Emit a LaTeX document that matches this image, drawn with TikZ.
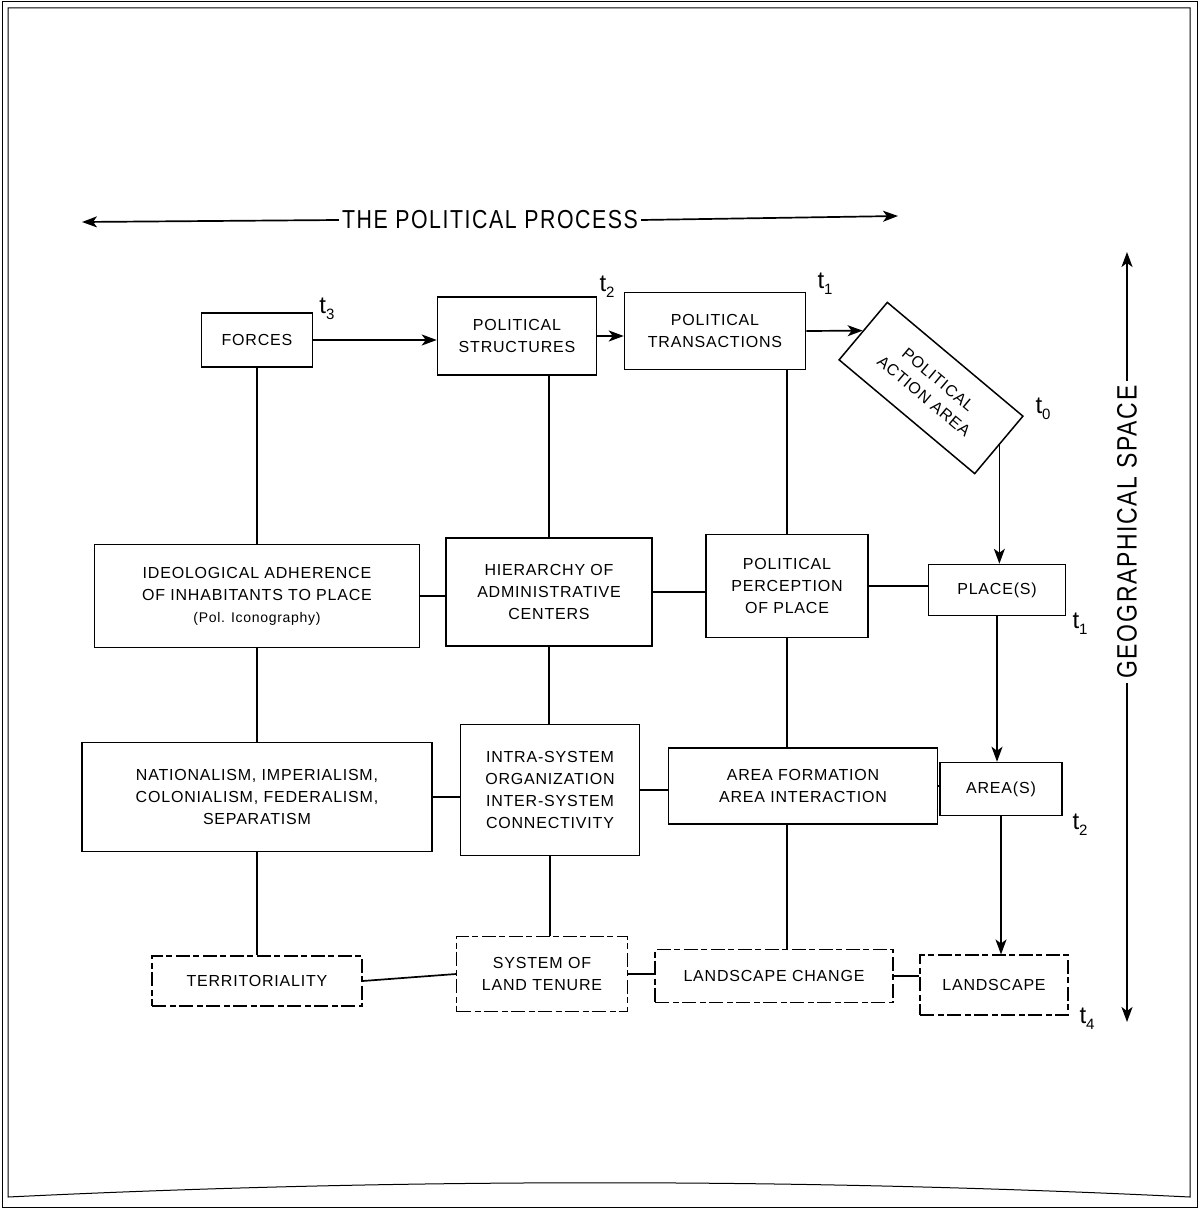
\documentclass[tikz,border=0pt]{standalone}
\usepackage{fontspec}
\setmainfont{Liberation Sans}[LetterSpace=5]
\newfontfamily\condfont{Liberation Sans}[FakeStretch=0.82,LetterSpace=6]
\usepackage{tikz}
\usetikzlibrary{positioning}
\usetikzlibrary{arrows.meta}
\tikzset{
  blk/.style={draw,line width=1.5pt,align=center,inner sep=2pt,font=\fontsize{16}{22}\selectfont},
  dblk/.style={blk,line width=1.1pt,dash pattern=on 14pt off 4pt on 6pt off 3pt},
  conn/.style={line width=1.7pt},
  arr/.style={conn,-{Stealth[length=15pt,width=11pt,inset=4pt]}},
  tlbl/.style={inner sep=0pt,font=\fontsize{24}{24}\selectfont},
  frame/.style={line width=1pt}
}
\newcommand{\tsub}[1]{t\raisebox{-6pt}{\fontsize{15}{15}\selectfont #1}}
\begin{document}
\begin{tikzpicture}[x=1pt,y=-1pt]
\useasboundingbox (0,0) rectangle (1199,1209);
% frame
\draw[frame] (2,2) rectangle (1197,1207);
\draw[frame] (8,8) -- (8,1197) .. controls (400,1178) and (800,1178) .. (1190,1197) -- (1190,8) -- cycle;
% the two axes
\node[inner sep=3pt,font=\condfont\fontsize{26}{26}\selectfont] (proc) at (490,220) {THE POLITICAL PROCESS};
\coordinate (procL) at (82,222);
\coordinate (procR) at (898,216);
\draw[arr] (proc.west) -- (procL);
\draw[arr] (proc.east) -- (procR);
\node[inner sep=4pt,rotate=90,font=\condfont\fontsize{28}{28}\selectfont] (geo) at (1127,532) {GEOGRAPHICAL SPACE};
\coordinate (geoT) at (1127,252);
\coordinate (geoB) at (1127,1022);
\draw[arr] (geo.east) -- (geoT);
\draw[arr] (geo.west) -- (geoB);
% top row
\node[blk,minimum width=111,minimum height=54] (forces) at (257,340) {FORCES};
\node[blk,minimum width=159,minimum height=78] (struct) at (517,336) {POLITICAL\\STRUCTURES};
\node[blk,minimum width=181,minimum height=77] (trans) at (715,331) {POLITICAL\\TRANSACTIONS};
\node[blk,rotate=-40,minimum width=177,minimum height=75] (paa) at (931,388) {POLITICAL\\ACTION AREA};
% second row
\node[blk,minimum width=325,minimum height=103] (ideol) at (257,596) {IDEOLOGICAL ADHERENCE\\OF INHABITANTS TO PLACE\\{\fontsize{14}{20}\selectfont (Pol. Iconography)}};
\node[blk,minimum width=206,minimum height=108] (hier) at (549,592) {HIERARCHY OF\\ADMINISTRATIVE\\CENTERS};
\node[blk,minimum width=162,minimum height=103] (percep) at (787,586) {POLITICAL\\PERCEPTION\\OF PLACE};
\node[blk,minimum width=137,minimum height=51] (place) at (997,590) {PLACE(S)};
% third row
\node[blk,minimum width=350,minimum height=109] (nation) at (257,797) {NATIONALISM, IMPERIALISM,\\COLONIALISM, FEDERALISM,\\SEPARATISM};
\node[blk,minimum width=179,minimum height=131] (intra) at (550,790) {INTRA-SYSTEM\\ORGANIZATION\\INTER-SYSTEM\\CONNECTIVITY};
\node[blk,minimum width=269,minimum height=76] (areaf) at (803,786) {AREA FORMATION\\AREA INTERACTION};
\node[blk,minimum width=122,minimum height=53] (areas) at (1001,789) {AREA(S)};
% bottom row
\node[dblk,minimum width=210,minimum height=50] (terr) at (257,981) {TERRITORIALITY};
\node[dblk,minimum width=171,minimum height=75] (tenure) at (542,974) {SYSTEM OF\\LAND TENURE};
\node[dblk,minimum width=238,minimum height=53] (lchange) at (774,976) {LANDSCAPE CHANGE};
\node[dblk,minimum width=148,minimum height=60] (lscape) at (994,985) {LANDSCAPE};
% time marks
\node[tlbl] (tthree) at (327,309) {\tsub{3}};
\node[tlbl] (ttwo) at (607,287) {\tsub{2}};
\node[tlbl] (tone) at (825,284) {\tsub{1}};
\node[tlbl] (tzero) at (1043,409) {\tsub{0}};
\node[tlbl] (tplace) at (1080,624) {\tsub{1}};
\node[tlbl] (tarea) at (1080,825) {\tsub{2}};
\node[tlbl] (tland) at (1087,1019) {\tsub{4}};
% process arrows
\draw[arr] (forces.east) -- (forces.east -| struct.west);
\draw[arr] (struct.east) -- (struct.east -| trans.west);
\draw[arr] (trans.east) -- (paa.west);
\draw[arr] (paa.east) -- (paa.east |- place.north);
\draw[arr] (place.south) -- (place.south |- areas.north);
\draw[arr] (areas.south) -- (areas.south |- lscape.north);
% columns
\draw[conn] (forces) -- (ideol);
\draw[conn] (ideol) -- (nation);
\draw[conn] (nation) -- (terr);
\draw[conn] (hier.north) -- (hier.north |- struct.south);
\draw[conn] (hier.south) -- (hier.south |- intra.north);
\draw[conn] (intra.south) -- (intra.south |- tenure.north);
\draw[conn] (percep.north) -- (percep.north |- trans.south);
\draw[conn] (percep.south) -- (percep.south |- areaf.north);
\draw[conn] (percep.south |- areaf.south) -- (percep.south |- lchange.north);
% rows
\draw[conn] (ideol.east) -- (ideol.east -| hier.west);
\draw[conn] (hier.east) -- (hier.east -| percep.west);
\draw[conn] (percep.east) -- (percep.east -| place.west);
\draw[conn] (nation.east) -- (nation.east -| intra.west);
\draw[conn] (intra.east) -- (intra.east -| areaf.west);
\draw[conn] (areaf.east) -- (areaf.east -| areas.west);
\draw[conn] (terr.east) -- (tenure.west);
\draw[conn] (tenure.east) -- (tenure.east -| lchange.west);
\draw[conn] (lchange.east) -- (lchange.east -| lscape.west);
\end{tikzpicture}
\end{document}
